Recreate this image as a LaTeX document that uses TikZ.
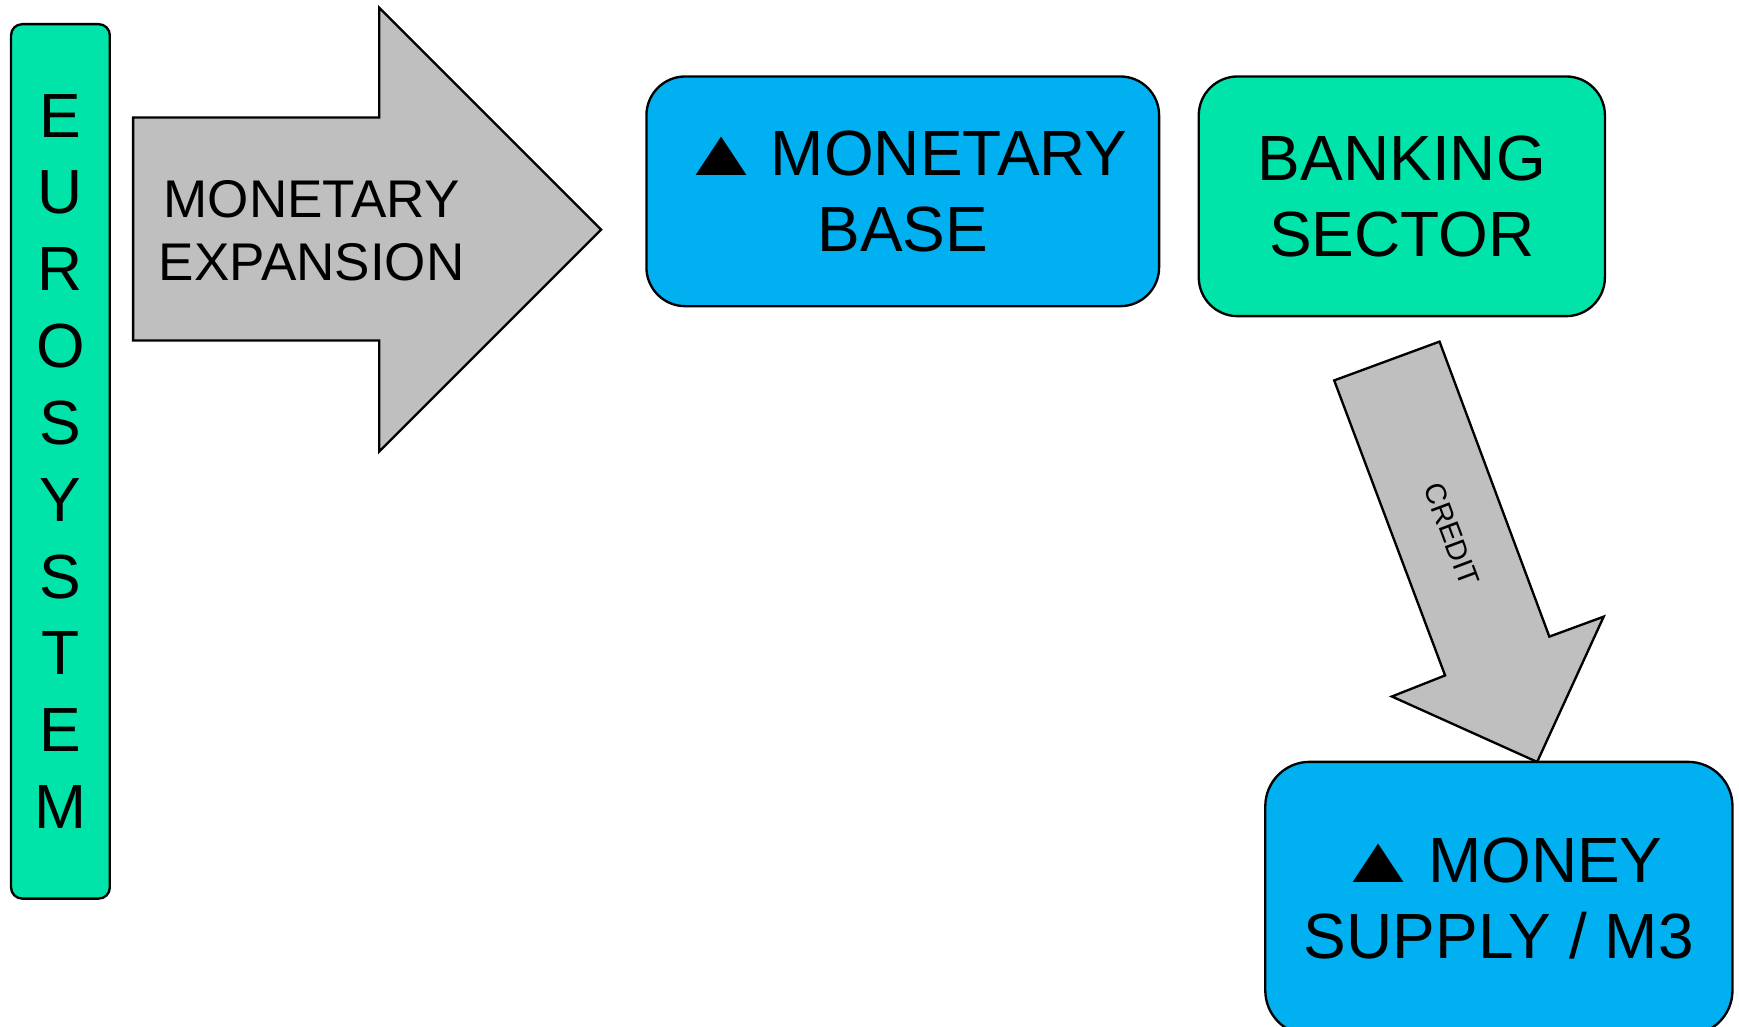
\documentclass[tikz,border=0pt]{standalone}
\usepackage{fontspec}
\setmainfont{Liberation Sans}
\definecolor{skyblue}{HTML}{00B0F0}
\definecolor{seagreen}{HTML}{00E4AA}
\definecolor{arrowgray}{HTML}{BFBFBF}
\newcommand{\uptri}{\scalebox{1.36}[1.03]{▲}\hspace{-0.1cm}\ }
\begin{document}
\begin{tikzpicture}[x=0.01cm,y=0.01cm,line width=0.6pt,
  box/.style={draw,align=center,inner sep=0pt,font=\fontsize{16.4}{19.4}\selectfont},
  blockarrow/.style={draw,fill=arrowgray,line join=miter}]
\useasboundingbox (0,0) rectangle (1568,-926);
\node[box,fill=seagreen,rounded corners=0.1cm,minimum width=0.89cm,minimum height=7.88cm,
  font=\fontsize{16}{19.7}\selectfont] (euro) at (54.5,-416) {E\\U\\R\\O\\S\\Y\\S\\T\\E\\M};
\draw[blockarrow] (120,-106) -- (342,-106) -- (342,-7) -- (542,-207) -- (342,-407)
  -- (342,-307) -- (120,-307) -- cycle;
\node[align=center,font=\fontsize{13.6}{16.2}\selectfont] (expand) at (281,-208) {MONETARY\\EXPANSION};
\node[box,fill=skyblue,rounded corners=0.35cm,minimum width=4.62cm,minimum height=2.07cm]
  (base) at (814,-172.5) {\uptri MONETARY\\BASE};
\node[box,fill=seagreen,rounded corners=0.35cm,minimum width=3.66cm,minimum height=2.16cm]
  (bank) at (1264,-177) {BANKING\\SECTOR};
\draw[blockarrow] (1203,-343) -- (1298,-308) -- (1397,-574) -- (1446,-556) -- (1386,-687)
  -- (1255,-628) -- (1303,-609) -- cycle;
\node[rotate=-69.5,font=\fontsize{7.4}{9}\selectfont] (credit) at (1309,-482) {CREDIT};
\node[box,fill=skyblue,rounded corners=0.4cm,minimum width=4.21cm,minimum height=2.46cm]
  (money) at (1351.5,-810) {\uptri MONEY\\SUPPLY / M3};
\end{tikzpicture}
\end{document}
